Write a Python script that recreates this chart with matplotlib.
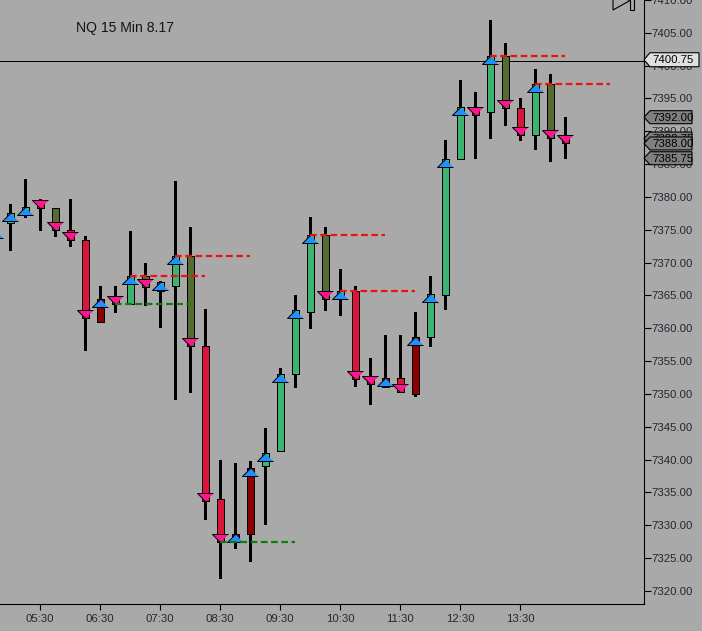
import matplotlib
matplotlib.use('Agg')
import matplotlib.pyplot as plt
from matplotlib.patches import Polygon

plt.rcParams['font.family'] = ['Liberation Sans', 'DejaVu Sans']

GREEN = '#3CB371'
RED = '#DC143C'
OLIVE = '#556B2F'
DARK = '#8B0000'

times = ['04:45', '05:00', '05:15', '05:30', '05:45', '06:00', '06:15', '06:30',
         '06:45', '07:00', '07:15', '07:30', '07:45', '08:00', '08:15', '08:30',
         '08:45', '09:00', '09:15', '09:30', '09:45', '10:00', '10:15', '10:30',
         '10:45', '11:00', '11:15', '11:30', '11:45', '12:00', '12:15', '12:30',
         '12:45', '13:00', '13:15', '13:30', '13:45', '14:00', '14:15']
highs = [7376, 7379, 7382.75, 7379.75, 7378.25, 7379.75, 7374, 7366.5,
         7366.5, 7374.75, 7370, 7367.25, 7382.5, 7375.5, 7363, 7340,
         7339.5, 7339.75, 7344.75, 7354, 7365, 7377, 7375.5, 7369,
         7366.5, 7355.5, 7359, 7359, 7362.5, 7368, 7388.75, 7397.75,
         7396, 7407, 7403.5, 7395, 7399.5, 7398.75, 7392.25]
lows = [7372, 7372, 7377, 7375, 7374, 7372.5, 7356.75, 7361,
        7362.5, 7363.75, 7363.5, 7360.25, 7349.25, 7350.25, 7331, 7322,
        7326.5, 7324.5, 7330.25, 7341.25, 7351, 7360, 7362.75, 7362,
        7351.25, 7348.5, 7351, 7350.25, 7349.75, 7357.25, 7363, 7385.75,
        7386, 7389, 7391, 7388.75, 7387.25, 7385.5, 7386]
body_top = [7375, 7377.5, 7378.5, 7379.25, 7378.25, 7375, 7373.5, 7364.5,
            7364.75, 7368, 7368, 7367, 7371, 7371, 7357.25, 7334,
            7328.75, 7338.75, 7341, 7353, 7362.75, 7374.25, 7374.25, 7365.75,
            7365.75, 7352.5, 7352.5, 7352.5, 7358.75, 7365.25, 7385.75, 7393.75,
            7393.5, 7401.5, 7401.5, 7393.5, 7397.25, 7397.25, 7389]
body_bot = [7374, 7376, 7377.25, 7378.25, 7375, 7373.5, 7361.5, 7361,
            7363.75, 7363.75, 7366.25, 7365.75, 7366.5, 7357.25, 7333.75, 7327.5,
            7327.5, 7328.75, 7339, 7341.25, 7353, 7362.5, 7364.5, 7364.5,
            7352.25, 7351.5, 7351, 7350.25, 7350, 7358.75, 7365, 7385.75,
            7392.5, 7393, 7393.5, 7389.5, 7389.5, 7389, 7388.25]
colors = [GREEN, GREEN, GREEN, RED, OLIVE, RED, RED, DARK,
          RED, GREEN, OLIVE, GREEN, GREEN, OLIVE, RED, RED,
          DARK, DARK, GREEN, GREEN, GREEN, GREEN, OLIVE, GREEN,
          RED, RED, DARK, RED, DARK, GREEN, GREEN, GREEN,
          RED, GREEN, OLIVE, RED, GREEN, OLIVE, RED]
arrows = ['u', 'u', 'u', 'd', 'd', 'd', 'd', 'u',
          'd', 'u', 'd', 'u', 'u', 'd', 'd', 'd',
          'u', 'u', 'u', 'u', 'u', 'u', 'd', 'u',
          'd', 'd', 'u', 'd', 'u', 'u', 'u', 'u',
          'd', 'u', 'd', 'd', 'u', 'd', 'd']

level_start = ['06:45', '07:00', '07:45', '08:30', '10:00', '10:30', '13:00', '13:45']
level_price = [7363.75, 7368, 7371, 7327.5, 7374.25, 7365.75, 7401.5, 7397.25]
level_color = ['#0E7D0E', '#F01010', '#F01010', '#0E7D0E', '#F01010', '#F01010', '#F01010', '#F01010']
level_length = 75

last_price = 7400.75
tag_prices = [7392.00, 7388.75, 7388.00, 7385.75]
hour_labels = ['05:30', '06:30', '07:30', '08:30', '09:30', '10:30', '11:30', '12:30', '13:30']
price_ticks = list(range(7320, 7415, 5))


def minutes(t):
    return int(t[:2]) * 60 + int(t[3:])


BG = '#A9A9A9'
fig = plt.figure(figsize=(7.02, 6.31), dpi=100, facecolor=BG)
ax = fig.add_axes([0, 27 / 631, 643.5 / 702, 604 / 631], facecolor=BG)
x0 = minutes('05:30') - 40
ax.set_xlim(x0, x0 + 643.5)
ax.set_ylim(7318.02, 7410)

xs = [minutes(t) for t in times]

# wicks then bodies
ax.vlines(xs, lows, highs, color='black', linewidth=2.16, antialiased=False, zorder=2)
heights = [t - b for t, b in zip(body_top, body_bot)]
ax.bar(xs, heights, width=7, bottom=body_bot, color=colors, edgecolor='black',
       linewidth=0.72, antialiased=False, zorder=3)

# arrows sit with the tip on the body end
up_tri = [(0, 0), (-1, -1), (1, -1)]
down_tri = [(0, 0), (-1, 1), (1, 1)]
for x, top, bot, a in zip(xs, body_top, body_bot, arrows):
    if a == 'u':
        ax.plot([x], [top], marker=up_tri, ms=11.5, mfc='#1E90FF', mec='black', mew=0.7, zorder=4)
    else:
        ax.plot([x], [bot], marker=down_tri, ms=11.5, mfc='#FF1493', mec='black', mew=0.7, zorder=4)

for start, price, c in zip(level_start, level_price, level_color):
    s = minutes(start)
    ax.plot([s, s + level_length], [price, price], color=c, linewidth=1.6,
            dashes=(3.0, 1.6), zorder=5)

ax.axhline(last_price, color='black', linewidth=0.72, zorder=1)

ax.set_xticks([minutes(t) for t in hour_labels])
ax.set_xticklabels(hour_labels)
ax.yaxis.tick_right()
ax.set_yticks(price_ticks)
ax.set_yticklabels(['%.2f' % p for p in price_ticks])
ax.tick_params(axis='x', length=4.5, width=0.8, pad=3, labelsize=8.2, colors='black', labelcolor='#202830')
ax.tick_params(axis='y', length=5, width=0.8, pad=1, labelsize=8.2, colors='black', labelcolor='#202830')
ax.spines['top'].set_visible(False)
ax.spines['left'].set_visible(False)
ax.spines['right'].set_linewidth(0.8)
ax.spines['bottom'].set_linewidth(0.8)

ax.text(76, 631 - 28, 'NQ 15 Min 8.17', transform=None, fontsize=10.1, color='#151515', va='center')

# little chart-scroll icon in the top right corner
fig.add_artist(Polygon([(613, 621), (613, 633), (631, 631)], closed=True, fc=BG,
                       edgecolor='black', linewidth=0.8, transform=None))
fig.add_artist(Polygon([(630, 621), (634, 621), (634, 633), (630, 633)], closed=True, fc=BG,
                       edgecolor='black', linewidth=0.8, transform=None))

fig.canvas.draw()


def price_tag(price, right, half, fc, z):
    y = ax.transData.transform((0, price))[1] + 1
    pts = [(644, y), (650, y + half), (right, y + half), (right, y - half), (650, y - half)]
    fig.add_artist(Polygon(pts, closed=True, fc=fc, ec='black', linewidth=0.8,
                           transform=None, zorder=z))
    fig.add_artist(plt.Text(652, y - 0.5, '%.2f' % price, transform=None, fontsize=8.2,
                            color='black', va='center', zorder=z))


for i, p in enumerate(tag_prices):
    price_tag(p, 692, 6.5, '#808080', 3 + i)
price_tag(last_price, 699, 7, '#E0E0E0', 8)

fig.savefig('out.png', dpi=100, facecolor=BG)
